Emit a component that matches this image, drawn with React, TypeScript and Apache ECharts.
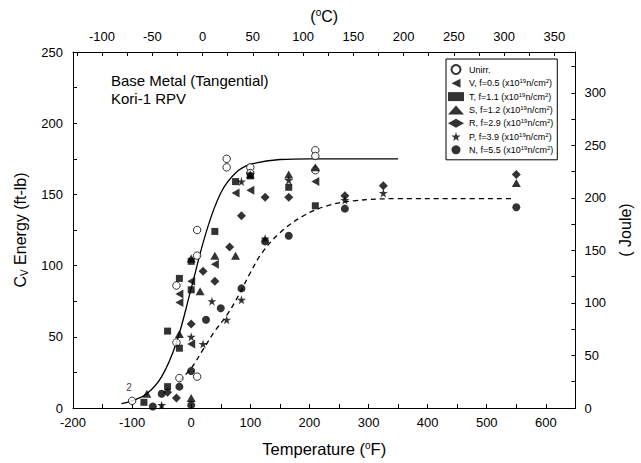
import { useEffect, useRef } from "react";
import * as echarts from "echarts";

// ---- data: [temperature °F, Charpy energy ft-lb] ----
const unirr = [[-100, 5], [-25, 86], [-25, 46], [-20, 21], [10, 125], [10, 107], [10, 22], [60, 175], [60, 169], [100, 169], [100, 165], [210, 181], [210, 177], [210, 167]];
const capsV = [[-20, 80], [-20, 74], [0, 89], [0, 45], [40, 101], [75, 151], [100, 153], [210, 159]];
const capsT = [[-80, 4], [-40, 54], [-40, 15], [-20, 91], [-20, 42], [0, 103], [0, 83], [40, 124], [75, 159], [100, 163], [165, 155], [210, 142]];
const capsS = [[-75, 10], [-20, 52], [0, 105], [0, 7], [15, 82], [40, 107], [75, 107], [100, 164], [165, 164], [210, 169], [550, 158]];
const capsR = [[-40, 11], [-25, 7], [0, 59], [20, 96], [40, 89], [65, 113], [85, 135], [125, 148], [165, 148], [260, 149], [325, 156], [550, 164]];
const capsP = [[-50, 2], [0, 50], [20, 45], [35, 75], [60, 62], [85, 76], [85, 159], [125, 119], [165, 160], [260, 146], [325, 151]];
const capsN = [[-65, 1], [-50, 10], [-20, 15], [0, 26], [0, 2], [25, 62], [50, 70], [85, 84], [125, 117], [165, 121], [260, 140], [550, 141]];

// fitted curves, points
const fitUnirr = [[-118, 3], [-100, 5], [-75, 10], [-50, 22], [-25, 46], [0, 84], [25, 123], [50, 151], [75, 165], [100, 171], [150, 174.5], [200, 175], [350, 175]];
const fitIrr = [[-20, 19], [0, 28], [20, 41], [40, 54], [60, 65], [80, 79], [100, 95], [120, 109], [150, 123], [190, 135], [230, 142], [275, 145.5], [350, 147], [450, 147], [545, 147]];

const seriesNames = ["Unirr.", "V", "T", "S", "R", "P", "N"];
const fluences = ["", "0.5", "1.1", "1.2", "2.9", "3.9", "5.5"];
const annotation = ["Base Metal (Tangential)", "Kori-1 RPV"];

const FONT = "Liberation Sans, Arial, sans-serif";
const LEFT_TRI = "path://M0,50 L100,0 L100,100 Z";
const STAR = "path://M50,0 L61,35 L98,35 L68,57 L79,91 L50,70 L21,91 L32,57 L2,35 L39,35 Z";

const fmtStep = (step: number) => (v: number) => {
  const r = Math.round(v);
  return Math.abs(r - v) < 1e-6 && r % step === 0 ? String(r) : "";
};

const axisCommon = {
  type: "value" as const,
  axisLine: { show: true, onZero: false, lineStyle: { color: "#000", width: 1 } },
  axisTick: { show: true, inside: true, length: 4, lineStyle: { color: "#000", width: 1 } },
  splitLine: { show: false },
  axisLabel: { formatter: fmtStep(50), color: "#000", fontSize: 13, fontFamily: FONT },
};

export default function App() {
  const ref = useRef<HTMLDivElement>(null);
  useEffect(() => {
    if (!ref.current) return;
    const chart = echarts.init(ref.current, null, { renderer: "svg" });
    const scatter = (idx: number, data: any[], symbol: string, size: number | number[], extra: any = {}) => ({
      type: "scatter",
      name: seriesNames[idx],
      data,
      symbol,
      symbolSize: size,
      itemStyle: { color: "#000" },
      z: 3,
      ...extra,
    });
    chart.setOption({
      animation: false,
      backgroundColor: "#fff",
      textStyle: { fontFamily: FONT },
      grid: { left: 73, right: 53, top: 52, bottom: 51, containLabel: false },
      xAxis: [
        {
          ...axisCommon,
          position: "bottom",
          min: -200,
          max: 650,
          interval: 50,
          axisLabel: { ...axisCommon.axisLabel, formatter: fmtStep(100), margin: 8 },
          name: "Temperature ({sup|o}F)",
          nameLocation: "middle",
          nameGap: 32,
          nameTextStyle: {
            fontSize: 16.5, color: "#000", fontFamily: FONT, lineHeight: 18,
            rich: { sup: { fontSize: 10, verticalAlign: "top", lineHeight: 8, color: "#000", fontFamily: FONT } },
          },
        },
        {
          ...axisCommon,
          position: "top",
          min: -128.89,
          max: 371,
          minInterval: 25,
          maxInterval: 25,
          splitNumber: 20,
          axisLabel: { ...axisCommon.axisLabel, margin: 9 },
          name: "({sup|o}C)",
          nameLocation: "middle",
          nameGap: 25,
          nameTextStyle: {
            fontSize: 16, color: "#000", fontFamily: FONT, lineHeight: 18,
            rich: { sup: { fontSize: 10, verticalAlign: "top", lineHeight: 8, color: "#000", fontFamily: FONT } },
          },
        },
      ],
      yAxis: [
        {
          ...axisCommon,
          position: "left",
          min: 0,
          max: 250,
          interval: 25,
          axisLabel: { ...axisCommon.axisLabel, margin: 10 },
          name: "C{sub|V} Energy (ft-lb)",
          nameLocation: "middle",
          nameGap: 44,
          nameTextStyle: {
            fontSize: 16, color: "#000", fontFamily: FONT, lineHeight: 18,
            rich: { sub: { fontSize: 10, verticalAlign: "bottom", lineHeight: 8, color: "#000", fontFamily: FONT } },
          },
        },
        {
          ...axisCommon,
          position: "right",
          min: 0,
          max: 338.95,
          interval: 25,
          axisLabel: { ...axisCommon.axisLabel, margin: 9, showMaxLabel: false },
          name: "( Joule)",
          nameLocation: "middle",
          nameGap: 36,
          nameTextStyle: { fontSize: 16, color: "#000", fontFamily: FONT },
        },
      ],
      legend: {
        orient: "vertical",
        left: 446,
        top: 59,
        data: seriesNames,
        backgroundColor: "#fff",
        borderColor: "#000",
        borderWidth: 1,
        borderRadius: 0,
        padding: [5, 4, 5, 2],
        itemWidth: 16,
        itemHeight: 9,
        itemGap: 3.3,
        formatter: (name: string) => {
          const i = seriesNames.indexOf(name);
          if (i === 0) return name;
          return `${name}, f=${fluences[i]} (x10{sup|19}n/cm{sup|2})`;
        },
        textStyle: {
          fontSize: 9, color: "#000", fontFamily: FONT, lineHeight: 10,
          rich: { sup: { fontSize: 6, verticalAlign: "top", lineHeight: 5, color: "#000", fontFamily: FONT } },
        },
      },
      graphic: [
        { type: "text", left: 111, top: 73, style: { text: annotation[0], font: `15px ${FONT}`, fill: "#000" } },
        { type: "text", left: 111, top: 91, style: { text: annotation[1], font: `15px ${FONT}`, fill: "#000" } },
      ],
      series: [
        {
          type: "line",
          data: fitUnirr,
          smooth: 0.4,
          showSymbol: false,
          lineStyle: { color: "#000", width: 1.3 },
          z: 2,
          silent: true,
        },
        {
          type: "line",
          data: fitIrr,
          smooth: 0.4,
          showSymbol: false,
          lineStyle: { color: "#000", width: 1.3, type: [5, 4] },
          z: 2,
          silent: true,
        },
        scatter(
          0,
          unirr.map((p, k) =>
            k === 0
              ? { value: p, label: { show: true, formatter: "2", position: "top", offset: [-3, 1], fontSize: 10, color: "#000", fontFamily: FONT } }
              : { value: p }
          ),
          "circle",
          7.5,
          { itemStyle: { color: "#fff", borderColor: "#000", borderWidth: 1 } }
        ),
        scatter(1, capsV, LEFT_TRI, [8, 9]),
        scatter(2, capsT, "rect", 7),
        scatter(3, capsS, "triangle", [9, 8]),
        scatter(4, capsR, "diamond", [9, 9]),
        scatter(5, capsP, STAR, 9),
        scatter(6, capsN, "circle", 8),
      ],
    });
    return () => chart.dispose();
  }, []);
  return <div ref={ref} style={{ position: "fixed", left: 0, top: 0, width: 641, height: 463 }} />;
}
